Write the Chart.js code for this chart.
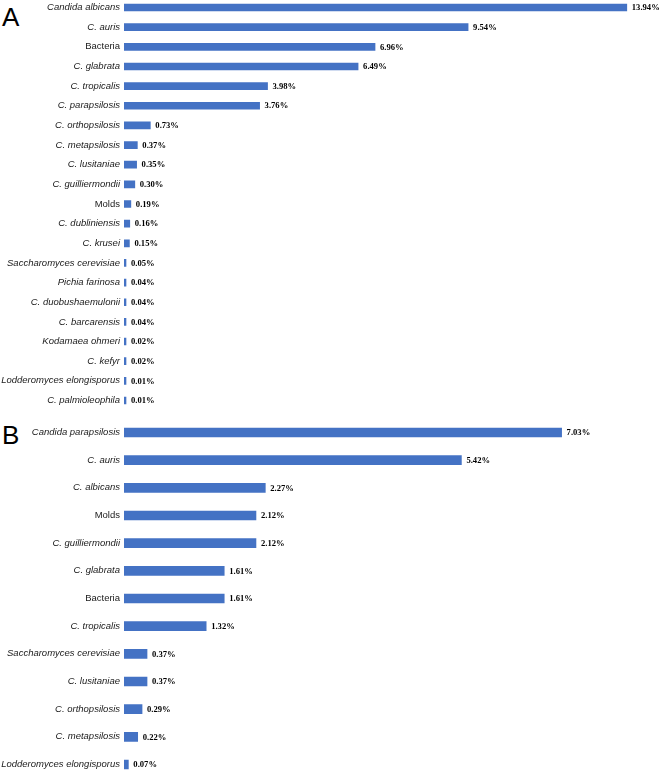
<!DOCTYPE html>
<html>
<head>
<meta charset="utf-8">
<script src="https://cdn.jsdelivr.net/npm/chart.js@4"></script>
<style>
  body { margin: 0; background: #fff; width: 660px; height: 770px; overflow: hidden; position: relative; }
  .panel { position: absolute; left: 0; width: 660px; }
  .tag { position: absolute; left: 2px; font-family: "Liberation Sans", Arial, sans-serif; font-size: 26px; color: #000; }
</style>
</head>
<body>
<div class="tag" style="top:2px;">A</div>
<div class="tag" style="top:420px;">B</div>
<div class="panel" style="top:-12px;height:432px;"><canvas id="chartA"></canvas></div>
<div class="panel" style="top:409px;height:379px;"><canvas id="chartB"></canvas></div>
<script>
// Panel A
const labelsA = ['Candida albicans', 'C. auris', 'Bacteria', 'C. glabrata', 'C. tropicalis', 'C. parapsilosis',
  'C. orthopsilosis', 'C. metapsilosis', 'C. lusitaniae', 'C. guilliermondii', 'Molds', 'C. dubliniensis',
  'C. krusei', 'Saccharomyces cerevisiae', 'Pichia farinosa', 'C. duobushaemulonii', 'C. barcarensis',
  'Kodamaea ohmeri', 'C. kefyr', 'Lodderomyces elongisporus', 'C. palmioleophila'];
const valuesA = [13.94, 9.54, 6.96, 6.49, 3.98, 3.76, 0.73, 0.37, 0.35, 0.30, 0.19, 0.16, 0.15,
  0.05, 0.04, 0.04, 0.04, 0.02, 0.02, 0.01, 0.01];

// Panel B
const labelsB = ['Candida parapsilosis', 'C. auris', 'C. albicans', 'Molds', 'C. guilliermondii', 'C. glabrata',
  'Bacteria', 'C. tropicalis', 'Saccharomyces cerevisiae', 'C. lusitaniae', 'C. orthopsilosis',
  'C. metapsilosis', 'Lodderomyces elongisporus'];
const valuesB = [7.03, 5.42, 2.27, 2.12, 2.12, 1.61, 1.61, 1.32, 0.37, 0.37, 0.29, 0.22, 0.07];

const notItalic = ['Bacteria', 'Molds'];
const barColor = '#4472C4';

// draws the percentage next to each bar
const valueLabels = {
  id: 'valueLabels',
  afterDatasetsDraw(chart) {
    const ctx = chart.ctx;
    const meta = chart.getDatasetMeta(0);
    const vals = chart.data.datasets[0].data;
    ctx.save();
    ctx.font = 'bold 8.6px "Liberation Serif", "Times New Roman", serif';
    ctx.fillStyle = '#000';
    ctx.textBaseline = 'middle';
    ctx.textAlign = 'left';
    meta.data.forEach((bar, i) => {
      ctx.fillText(vals[i].toFixed(2) + '%', bar.x + 5, bar.y + 0.5);
    });
    ctx.restore();
  }
};

function makeChart(id, labels, values, xMax, padRight, thickness) {
  return new Chart(document.getElementById(id).getContext('2d'), {
    type: 'bar',
    data: {
      labels: labels,
      datasets: [{
        data: values,
        backgroundColor: barColor,
        barThickness: thickness,
        minBarLength: 2
      }]
    },
    options: {
      indexAxis: 'y',
      responsive: true,
      maintainAspectRatio: false,
      animation: false,
      layout: { padding: { left: 0, right: padRight, top: 0, bottom: 0 } },
      plugins: {
        legend: { display: false },
        tooltip: { enabled: false }
      },
      scales: {
        x: { display: false, min: 0, max: xMax },
        y: {
          grid: { display: false, drawTicks: false },
          border: { display: false },
          afterFit: function (scale) { scale.width = 124; },
          ticks: {
            autoSkip: false,
            padding: 4,
            color: '#1a1a1a',
            font: function (c) {
              const lbl = labels[c.index];
              return {
                family: '"Liberation Sans", Arial, sans-serif',
                size: 9.5,
                style: notItalic.includes(lbl) ? 'normal' : 'italic'
              };
            }
          }
        }
      }
    },
    plugins: [valueLabels]
  });
}

makeChart('chartA', labelsA, valuesA, 14.5, 13, 7);
makeChart('chartB', labelsB, valuesB, 8, 38, 9);
</script>
</body>
</html>
